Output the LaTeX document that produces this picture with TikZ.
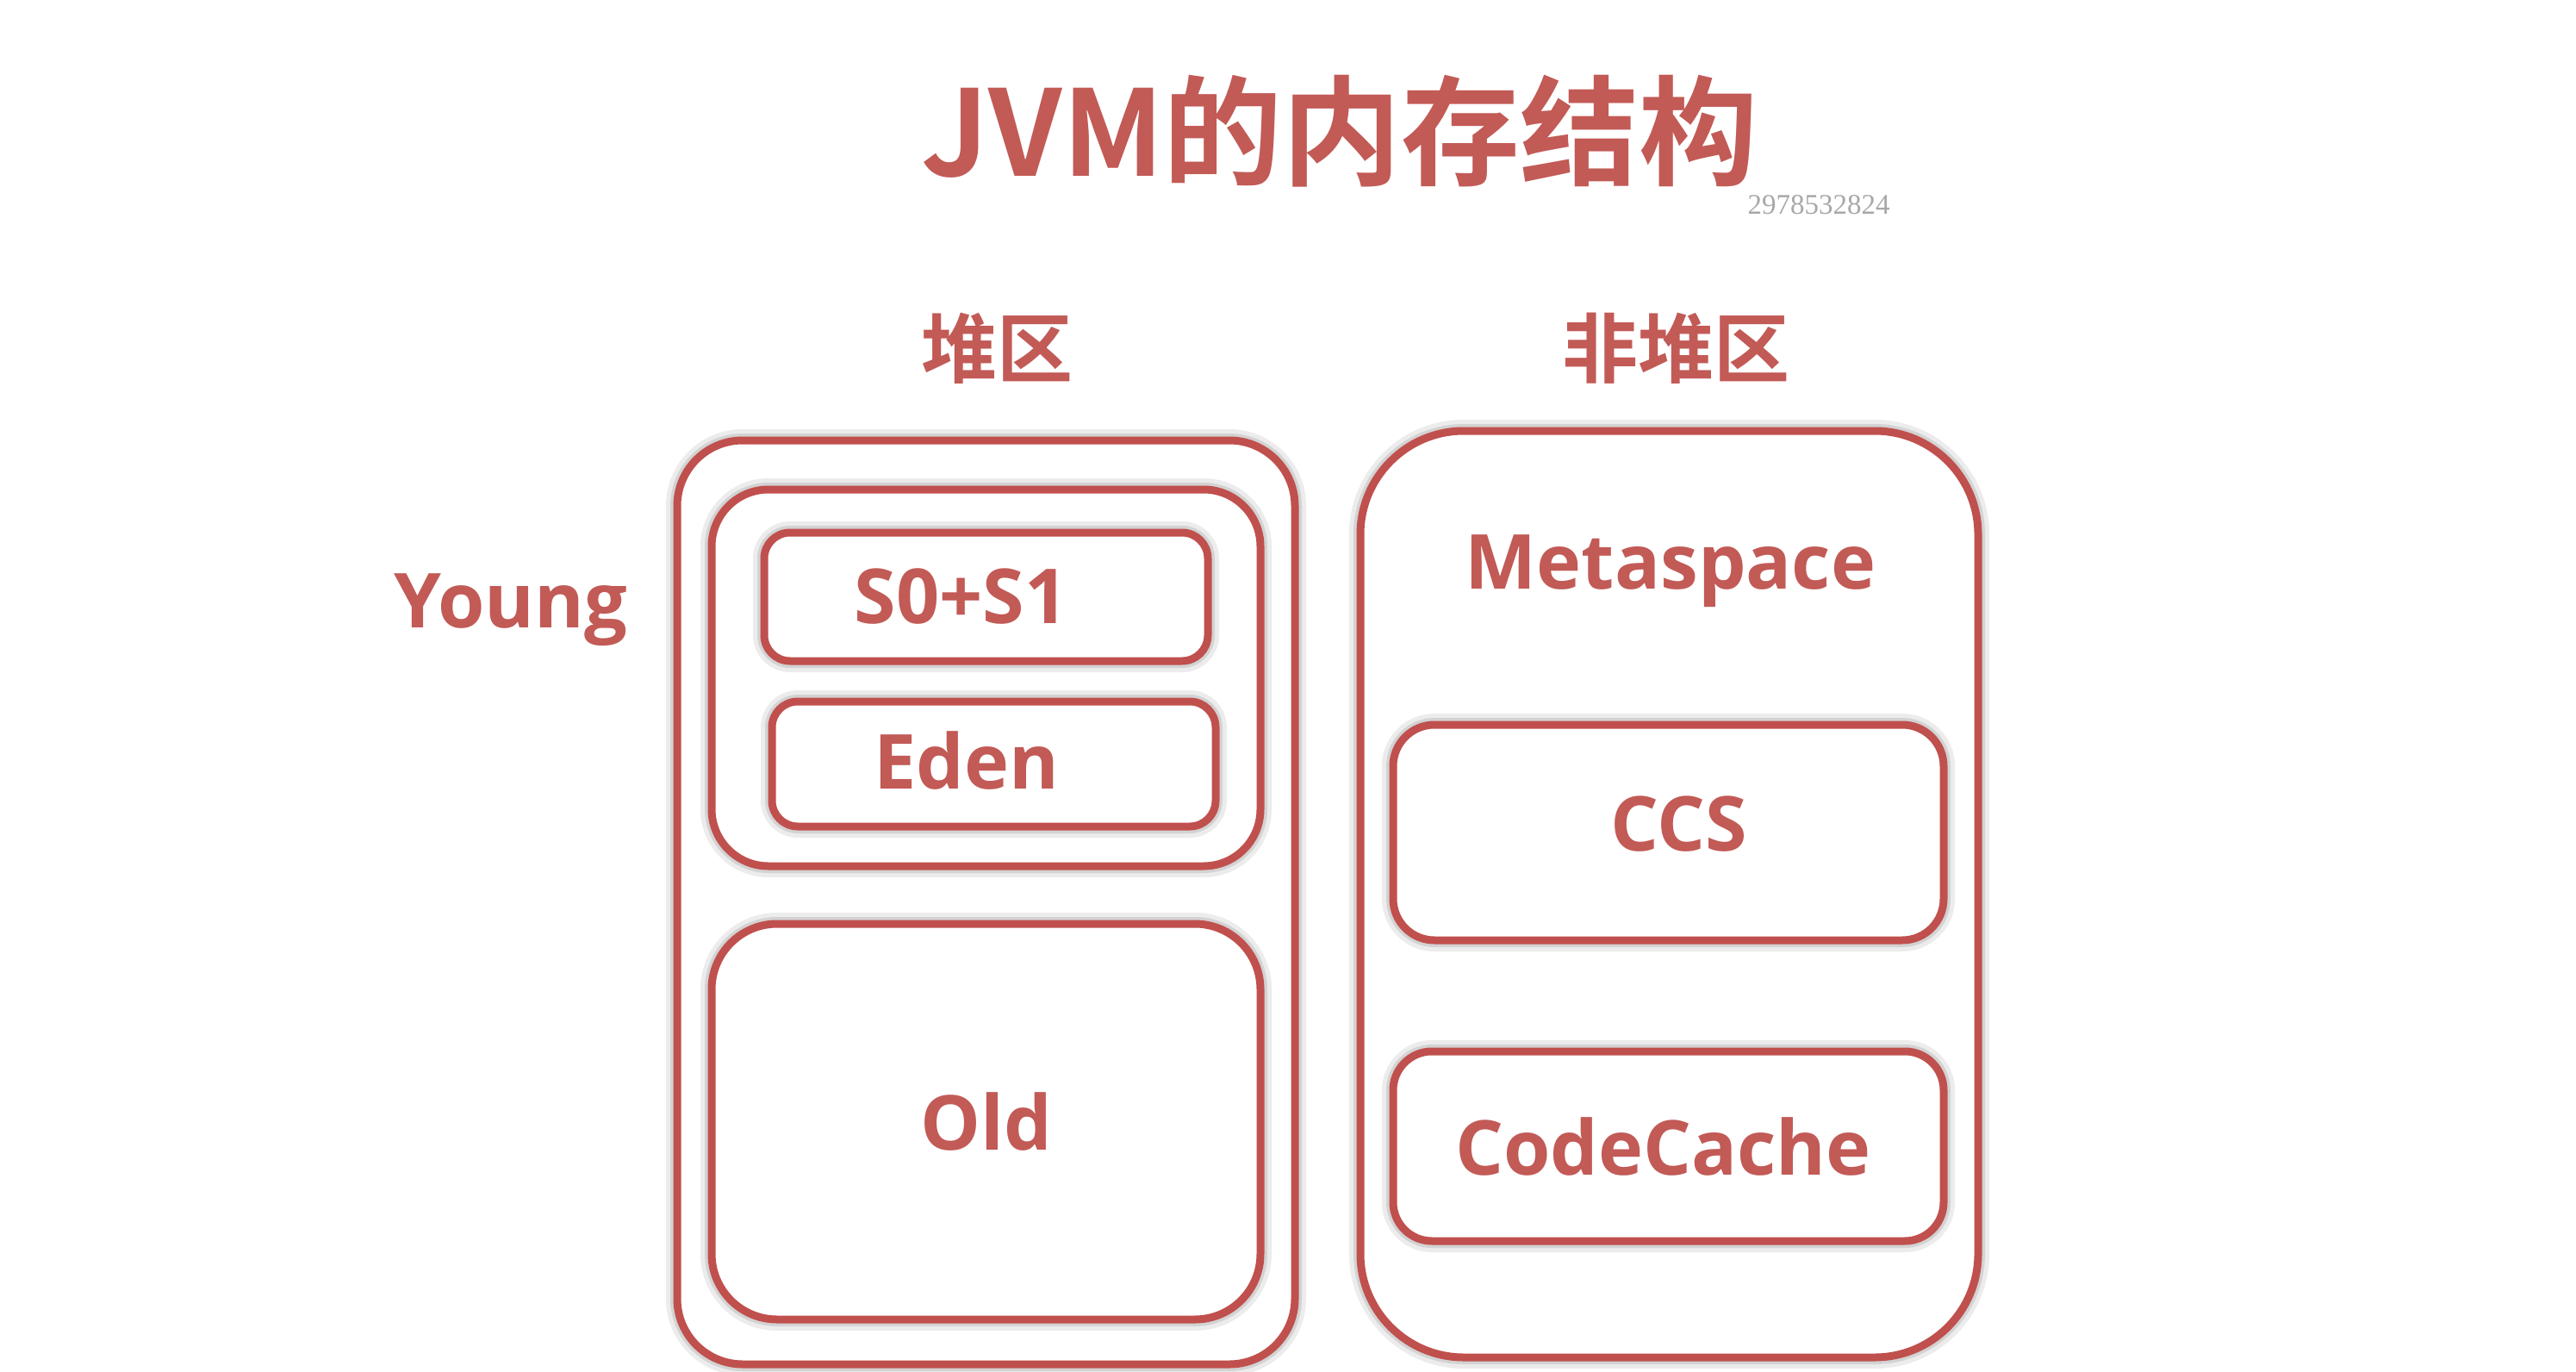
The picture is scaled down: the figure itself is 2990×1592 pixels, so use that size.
\documentclass[tikz,border=0pt]{standalone}
\usepackage{fontspec}
\newfontfamily\cjkb{Noto Sans CJK SC Bold}
\newfontfamily\lat{Open Sans}
\newfontfamily\wm{Liberation Serif}
\definecolor{boxred}{HTML}{C0504D}
\definecolor{txtred}{HTML}{C25A56}
\definecolor{wmgray}{HTML}{A8A8A8}
\tikzset{
  memarea/.style={draw=boxred, line width=9pt, fill=white,
    preaction={draw=black!45, line width=26pt, opacity=0.16},
    preaction={draw=black!45, line width=16pt, opacity=0.25},
    inner sep=0pt, outer sep=0pt},
  lbl/.style={text=txtred, font=\lat\bfseries\fontsize{88}{96}\selectfont, inner sep=0pt},
  cjklbl/.style={text=txtred, font=\cjkb\fontsize{88}{96}\selectfont, inner sep=0pt},
}
\begin{document}
\begin{tikzpicture}[x=1pt,y=-1pt]
\useasboundingbox[fill=white] (0,0) rectangle (2990,1592);
% title
\node[text=txtred, font=\cjkb\fontsize{138}{146}\selectfont, inner sep=0pt] (title) at (1555,152) {JVM的内存结构};
\node[text=wmgray, font=\wm\fontsize{33}{36}\selectfont, inner sep=0pt] (wmark) at (2111,238) {2978532824};
\node[cjklbl] (heap) at (1157,404) {堆区};
\node[cjklbl] (nonheap) at (1945,404) {非堆区};
\node[lbl] (younglbl) at (593,708) {Young};
% heap
\node[memarea, rounded corners=76pt, minimum width=717pt, minimum height=1072pt] (outerL) at (1144.5,1047) {};
\node[memarea, rounded corners=66pt, minimum width=637pt, minimum height=437pt] (young) at (1144.5,786.5) {};
\node[memarea, rounded corners=30pt, minimum width=515pt, minimum height=149pt] (s0s1) at (1144.5,692.5) {};
\node[lbl] (s0s1t) at ([xshift=-29pt]s0s1.center) {S0+S1};
\node[memarea, rounded corners=30pt, minimum width=515pt, minimum height=145pt] (eden) at (1153.5,886.5) {};
\node[lbl] (edent) at ([xshift=-32pt,yshift=4pt]eden.center) {Eden};
\node[memarea, rounded corners=76pt, minimum width=637pt, minimum height=459pt] (old) at (1144.5,1301.5) {};
\node[lbl] (oldt) at (old.center) {Old};
% non-heap
\node[memarea, rounded corners=120pt, minimum width=717pt, minimum height=1075pt] (outerR) at (1937.5,1037.5) {};
\node[lbl] (meta) at (1939,663) {Metaspace};
\node[memarea, rounded corners=48pt, minimum width=639pt, minimum height=250pt] (ccs) at (1936.5,966) {};
\node[lbl] (ccst) at ([xshift=12pt,yshift=10pt]ccs.center) {CCS};
\node[memarea, rounded corners=45pt, minimum width=639pt, minimum height=220pt] (codecache) at (1936.5,1330) {};
\node[lbl] (codecachet) at ([xshift=-6pt]codecache.center) {CodeCache};
\end{tikzpicture}
\end{document}
